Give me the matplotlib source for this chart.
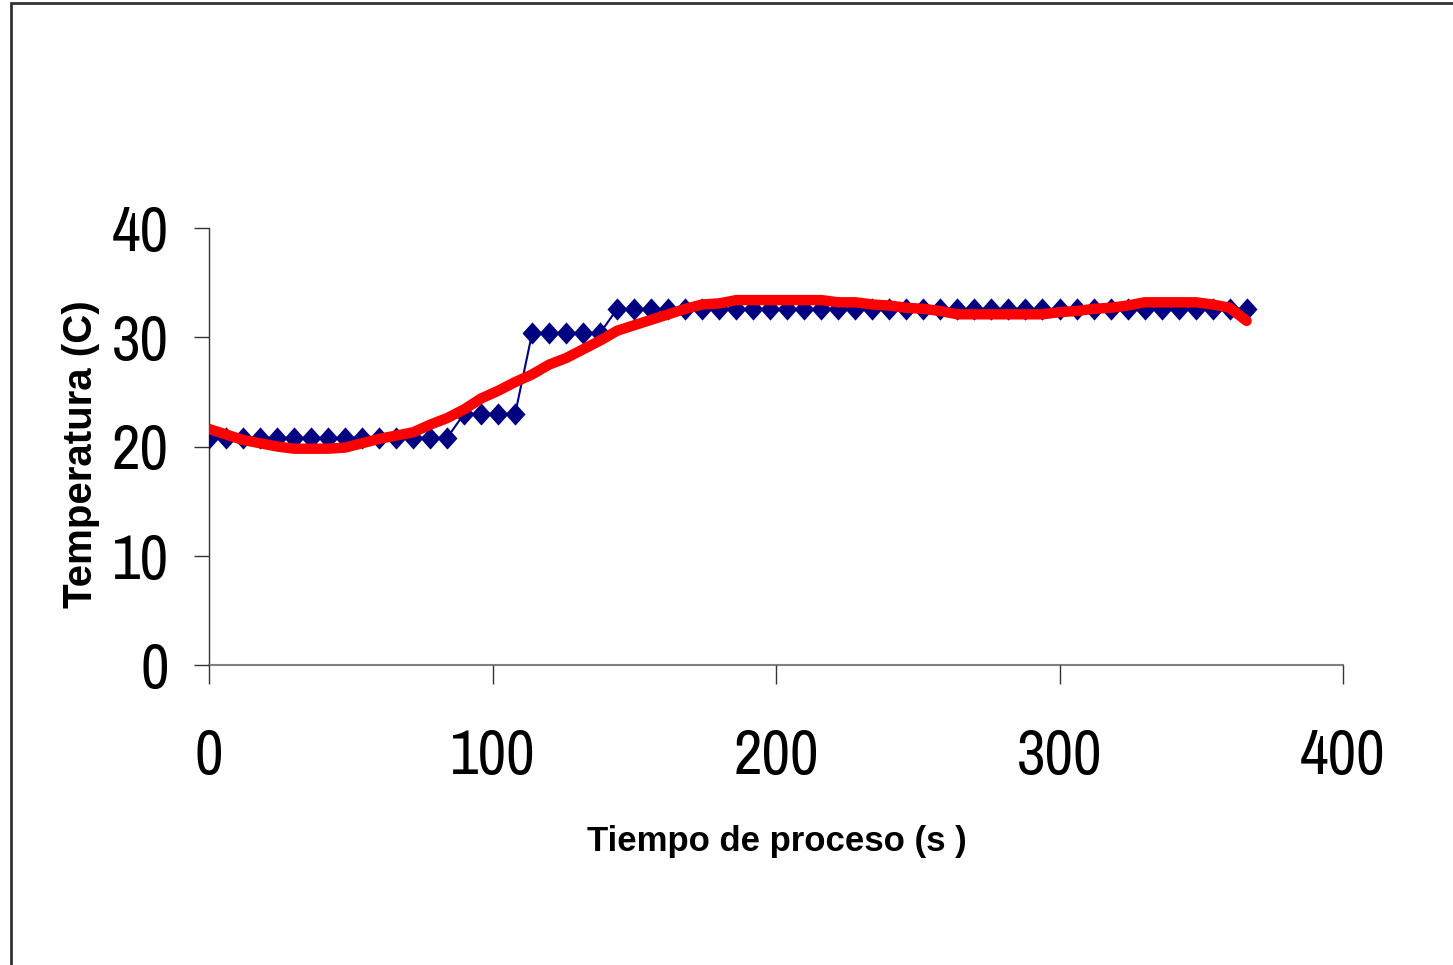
import numpy as np
from matplotlib import pyplot as plt
from matplotlib import font_manager
from matplotlib.patches import Rectangle

# tiempo (s)
tiempo = list(range(0, 367, 6))

# medida (azul)
temp_medida = [20.8] * 15 + [23.0] * 4 + [30.4] * 5 + [32.6] * 38

# modelo (rojo)
temp_modelo = [21.6, 21.1, 20.6, 20.3, 20.0, 19.8, 19.8, 19.8, 19.9, 20.3,
               20.7, 21.0, 21.3, 22.0, 22.6, 23.4, 24.4, 25.1, 25.9, 26.6,
               27.5, 28.1, 28.9, 29.7, 30.6, 31.1, 31.6, 32.1, 32.6, 33.0,
               33.1, 33.4, 33.4, 33.4, 33.4, 33.4, 33.4, 33.2, 33.2, 33.0,
               32.9, 32.7, 32.6, 32.4, 32.1, 32.1, 32.1, 32.1, 32.1, 32.1,
               32.3, 32.4, 32.6, 32.7, 32.9, 33.2, 33.2, 33.2, 33.2, 33.0,
               32.7, 31.5]

x_ticks = [0, 100, 200, 300, 400]
y_ticks = [0, 10, 20, 30, 40]

# buscar una fuente estrecha si hay
names = sorted(set(f.name for f in font_manager.fontManager.ttflist))
narrow = [n for n in names if 'Narrow' in n or 'Condensed' in n]
if narrow:
    tick_font = [narrow[0], 'Liberation Sans', 'DejaVu Sans']
    tick_size = 45
else:
    tick_font = ['Liberation Sans', 'DejaVu Sans']
    tick_size = 40
label_font = ['Liberation Sans', 'DejaVu Sans']

fig = plt.figure(figsize=(14.53, 9.65), dpi=100)
ax = fig.add_axes([209 / 1453, 1 - 665 / 965, (1343 - 209) / 1453, (665 - 228) / 965])

diamond = [(0, 1), (0.9, 0), (0, -1), (-0.9, 0)]
ax.plot(tiempo, temp_medida, color='#000080', lw=1.5, marker=diamond,
        markersize=16, markeredgewidth=0, zorder=2)
ax.plot(tiempo, temp_modelo, color='#ff0000', lw=7.5, solid_capstyle='round',
        solid_joinstyle='round', zorder=3)

ax.set_xlim(0, 400)
ax.set_ylim(0, 40)
ax.set_xticks(x_ticks)
ax.set_yticks(y_ticks)
ax.set_xticklabels([str(v) for v in x_ticks], family=tick_font, fontsize=tick_size)
ax.set_yticklabels([str(v) for v in y_ticks], family=tick_font, fontsize=tick_size)
ax.tick_params(axis='x', direction='out', length=13.7, width=1, color='#333333', pad=32)
ax.tick_params(axis='y', direction='out', length=10.8, width=1, color='#333333', pad=18)

ax.spines['top'].set_visible(False)
ax.spines['right'].set_visible(False)
ax.spines['left'].set_color('#333333')
ax.spines['left'].set_linewidth(1)
ax.spines['bottom'].set_color('#808080')
ax.spines['bottom'].set_linewidth(1.5)
for sp in ax.spines.values():
    sp.set_zorder(1)

fig.text(777 / 1453, 1 - 841 / 965, 'Tiempo de proceso (s )', family=label_font,
         fontsize=25, fontweight='bold', ha='center', va='center')
fig.text(81 / 1453, 1 - 454 / 965, 'Temperatura (C)', family=label_font,
         fontsize=29, fontweight='bold', rotation=90, ha='center', va='center')

# marco exterior
frame = Rectangle((11 / 1453, -0.2), 1.5, 1.2 - 3 / 965, transform=fig.transFigure,
                  fill=False, edgecolor='#333333', lw=2, clip_on=False)
fig.add_artist(frame)

fig.savefig('out.png', dpi=100, facecolor='white')
